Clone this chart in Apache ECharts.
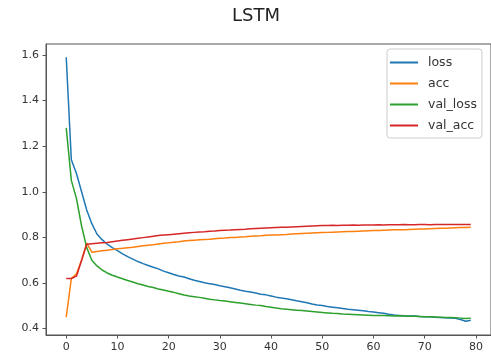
<!DOCTYPE html>
<html>
<head>
<meta charset="utf-8">
<script src="https://cdn.jsdelivr.net/npm/echarts@6/dist/echarts.min.js"></script>
<style>
html,body{margin:0;padding:0;background:#fff;}
#chart{width:491px;height:356px;}
</style>
</head>
<body>
<div id="chart"></div>
<script>
const titleText = 'LSTM';
const seriesNames = ['loss', 'acc', 'val_loss', 'val_acc'];
const xTicks = [0, 10, 20, 30, 40, 50, 60, 70, 80];
const yTicks = [0.4, 0.6, 0.8, 1.0, 1.2, 1.4, 1.6];

const loss = [1.59,1.14,1.08,1.00,0.92,0.86,0.815,0.79,0.77,0.755,
  0.742,0.728,0.716,0.705,0.694,0.685,0.677,0.669,0.662,0.652,
  0.645,0.637,0.631,0.626,0.619,0.612,0.607,0.601,0.597,0.593,
  0.588,0.584,0.579,0.574,0.568,0.564,0.561,0.556,0.551,0.548,
  0.543,0.538,0.534,0.531,0.527,0.522,0.518,0.513,0.508,0.504,
  0.501,0.497,0.494,0.491,0.488,0.485,0.483,0.481,0.478,0.475,
  0.473,0.470,0.467,0.463,0.460,0.458,0.456,0.455,0.455,0.453,
  0.452,0.452,0.450,0.449,0.448,0.446,0.445,0.440,0.432,0.437];

const acc = [0.45,0.62,0.64,0.70,0.775,0.735,0.738,0.741,0.744,0.747,
  0.750,0.752,0.755,0.757,0.760,0.763,0.766,0.768,0.771,0.774,
  0.776,0.779,0.781,0.784,0.786,0.788,0.790,0.791,0.792,0.794,
  0.796,0.797,0.799,0.800,0.802,0.803,0.805,0.806,0.807,0.809,
  0.810,0.811,0.812,0.813,0.815,0.816,0.817,0.818,0.819,0.820,
  0.821,0.822,0.823,0.824,0.825,0.826,0.826,0.827,0.828,0.829,
  0.830,0.830,0.831,0.832,0.833,0.834,0.834,0.835,0.836,0.837,
  0.837,0.838,0.839,0.840,0.840,0.841,0.842,0.843,0.843,0.844];

const valLoss = [1.28,1.05,0.97,0.85,0.755,0.70,0.675,0.657,0.644,0.634,
  0.626,0.619,0.611,0.604,0.597,0.591,0.585,0.580,0.574,0.569,
  0.564,0.559,0.553,0.547,0.543,0.540,0.537,0.533,0.529,0.526,
  0.523,0.521,0.518,0.515,0.512,0.509,0.506,0.503,0.501,0.497,
  0.494,0.490,0.487,0.485,0.483,0.481,0.479,0.477,0.475,0.473,
  0.471,0.469,0.467,0.466,0.464,0.463,0.462,0.461,0.460,0.459,
  0.458,0.457,0.457,0.456,0.455,0.456,0.455,0.454,0.454,0.453,
  0.452,0.452,0.451,0.450,0.449,0.449,0.448,0.446,0.444,0.446];

const valAcc = [0.62,0.62,0.63,0.70,0.77,0.772,0.774,0.776,0.778,0.781,
  0.784,0.787,0.790,0.793,0.796,0.799,0.802,0.805,0.808,0.810,
  0.812,0.814,0.816,0.818,0.820,0.822,0.824,0.825,0.827,0.828,
  0.830,0.831,0.832,0.834,0.835,0.836,0.838,0.839,0.840,0.841,
  0.842,0.843,0.844,0.845,0.846,0.847,0.848,0.849,0.850,0.851,
  0.852,0.852,0.853,0.852,0.853,0.853,0.854,0.853,0.854,0.854,
  0.854,0.855,0.854,0.855,0.855,0.855,0.856,0.855,0.855,0.856,
  0.856,0.855,0.856,0.856,0.856,0.857,0.856,0.856,0.857,0.856];

const seriesValues = [loss, acc, valLoss, valAcc];
const colors = ['#1f77b4', '#ff7f0e', '#2ca02c', '#d62728'];
const FONT = 'DejaVu Sans';

const chart = echarts.init(document.getElementById('chart'), null, {renderer: 'canvas'});
chart.setOption({
  animation: false,
  backgroundColor: '#ffffff',
  title: {
    text: titleText,
    left: 256, top: 7, textAlign: 'center', padding: 0,
    textStyle: {fontFamily: FONT, fontSize: 18, fontWeight: 'normal', color: '#222'}
  },
  legend: {
    data: seriesNames,
    orient: 'vertical',
    left: 387, top: 49,
    padding: [6, 5, 5, 3],
    itemGap: 6,
    itemWidth: 28, itemHeight: 2,
    icon: 'rect',
    backgroundColor: 'rgba(255,255,255,0.8)',
    borderColor: '#cccccc', borderWidth: 1, borderRadius: 3,
    textStyle: {fontFamily: FONT, fontSize: 12.5, color: '#333', lineHeight: 15, padding: [0, 0, 0, 5]}
  },
  grid: {
    left: 46, top: 44, width: 447, bottom: 21,
    show: true, borderColor: '#555', borderWidth: 1, backgroundColor: 'transparent'
  },
  xAxis: {
    type: 'value', min: -3.95, max: 82.95,
    splitLine: {show: false},
    axisLine: {show: true, onZero: false, lineStyle: {color: '#555', width: 1}},
    axisTick: {show: true, length: 3.5, customValues: xTicks, lineStyle: {color: '#555'}},
    axisLabel: {customValues: xTicks, margin: 7, fontFamily: FONT, fontSize: 11, color: '#333',
      formatter: v => String(v)}
  },
  yAxis: {
    type: 'value', min: 0.372, max: 1.648,
    splitLine: {show: false},
    axisLine: {show: true, onZero: false, lineStyle: {color: '#555', width: 1}},
    axisTick: {show: true, length: 3.5, customValues: yTicks, lineStyle: {color: '#555'}},
    axisLabel: {customValues: yTicks, margin: 7, fontFamily: FONT, fontSize: 11, color: '#333',
      formatter: v => v.toFixed(1)}
  },
  series: seriesNames.map((name, k) => ({
    name: name,
    type: 'line',
    showSymbol: false,
    color: colors[k],
    lineStyle: {width: 1.5, color: colors[k]},
    data: seriesValues[k].map((v, i) => [i, v])
  }))
});
</script>
</body>
</html>
